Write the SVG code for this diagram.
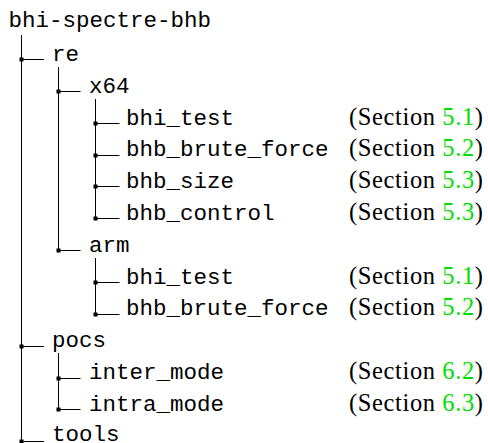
<svg xmlns="http://www.w3.org/2000/svg" width="488" height="443" viewBox="0 0 488 443">
<style>
.m{font-family:"Liberation Mono","DejaVu Sans Mono",monospace;font-size:22.5px;fill:#000}
.s{font-family:"Liberation Serif","Times New Roman",serif;font-size:24.5px;fill:#000}
.g{fill:#00dd00}
.ln{stroke:#000;stroke-width:1;fill:none}
.dot{fill:#000}
</style>
<rect width="488" height="443" fill="#fff"/>
<g id="connectors">
<path class="ln" d="M21.5 35V441.5 M58.5 67V250.5 M95.5 99V218.5 M95.5 258V314.5 M58.5 353V409.5"/>
<path class="ln" d="M21.5 59.5H44 M58.5 91.5H80.5 M95.5 123.5H119.5 M95.5 155.5H119.5 M95.5 186.5H119.5 M95.5 218.5H119.5 M58.5 250.5H80.5 M95.5 282.5H119.5 M95.5 314.5H119.5 M21.5 346.5H44 M58.5 378.5H80.5 M58.5 409.5H80.5 M21.5 441.5H44"/>
<g class="dot">
<rect x="19.5" y="57.5" width="4" height="4"/>
<rect x="56.5" y="89.5" width="4" height="4"/>
<rect x="93.5" y="121.5" width="4" height="4"/>
<rect x="93.5" y="153.5" width="4" height="4"/>
<rect x="93.5" y="184.5" width="4" height="4"/>
<rect x="93.5" y="216.5" width="4" height="4"/>
<rect x="56.5" y="248.5" width="4" height="4"/>
<rect x="93.5" y="280.5" width="4" height="4"/>
<rect x="93.5" y="312.5" width="4" height="4"/>
<rect x="19.5" y="344.5" width="4" height="4"/>
<rect x="56.5" y="376.5" width="4" height="4"/>
<rect x="56.5" y="407.5" width="4" height="4"/>
<rect x="19.5" y="439.5" width="4" height="4"/>
</g>
</g>
<g id="root"><text class="m" x="8.5" y="27">bhi-spectre-bhb</text></g>
<g id="re"><text class="m" x="52" y="61">re</text></g>
<g id="x64"><text class="m" x="89" y="92.7">x64</text></g>
<g id="x64_bhi_test"><text class="m" x="126" y="124.5">bhi_test</text><text class="s" x="349" y="124.5" textLength="134" lengthAdjust="spacing">(Section <tspan class="g">5.1</tspan>)</text></g>
<g id="x64_bhb_brute_force"><text class="m" x="126" y="156.3">bhb_brute_force</text><text class="s" x="349" y="156.3" textLength="134" lengthAdjust="spacing">(Section <tspan class="g">5.2</tspan>)</text></g>
<g id="x64_bhb_size"><text class="m" x="126" y="188.2">bhb_size</text><text class="s" x="349" y="188.2" textLength="134" lengthAdjust="spacing">(Section <tspan class="g">5.3</tspan>)</text></g>
<g id="x64_bhb_control"><text class="m" x="126" y="220">bhb_control</text><text class="s" x="349" y="220" textLength="134" lengthAdjust="spacing">(Section <tspan class="g">5.3</tspan>)</text></g>
<g id="arm"><text class="m" x="89" y="251.8">arm</text></g>
<g id="arm_bhi_test"><text class="m" x="126" y="283.6">bhi_test</text><text class="s" x="349" y="283.6" textLength="134" lengthAdjust="spacing">(Section <tspan class="g">5.1</tspan>)</text></g>
<g id="arm_bhb_brute_force"><text class="m" x="126" y="315.4">bhb_brute_force</text><text class="s" x="349" y="315.4" textLength="134" lengthAdjust="spacing">(Section <tspan class="g">5.2</tspan>)</text></g>
<g id="pocs"><text class="m" x="52" y="347.2">pocs</text></g>
<g id="inter_mode"><text class="m" x="89" y="379">inter_mode</text><text class="s" x="349" y="379" textLength="134" lengthAdjust="spacing">(Section <tspan class="g">6.2</tspan>)</text></g>
<g id="intra_mode"><text class="m" x="89" y="410.6">intra_mode</text><text class="s" x="349" y="410.6" textLength="134" lengthAdjust="spacing">(Section <tspan class="g">6.3</tspan>)</text></g>
<g id="tools"><text class="m" x="52" y="440.5">tools</text></g>
</svg>
